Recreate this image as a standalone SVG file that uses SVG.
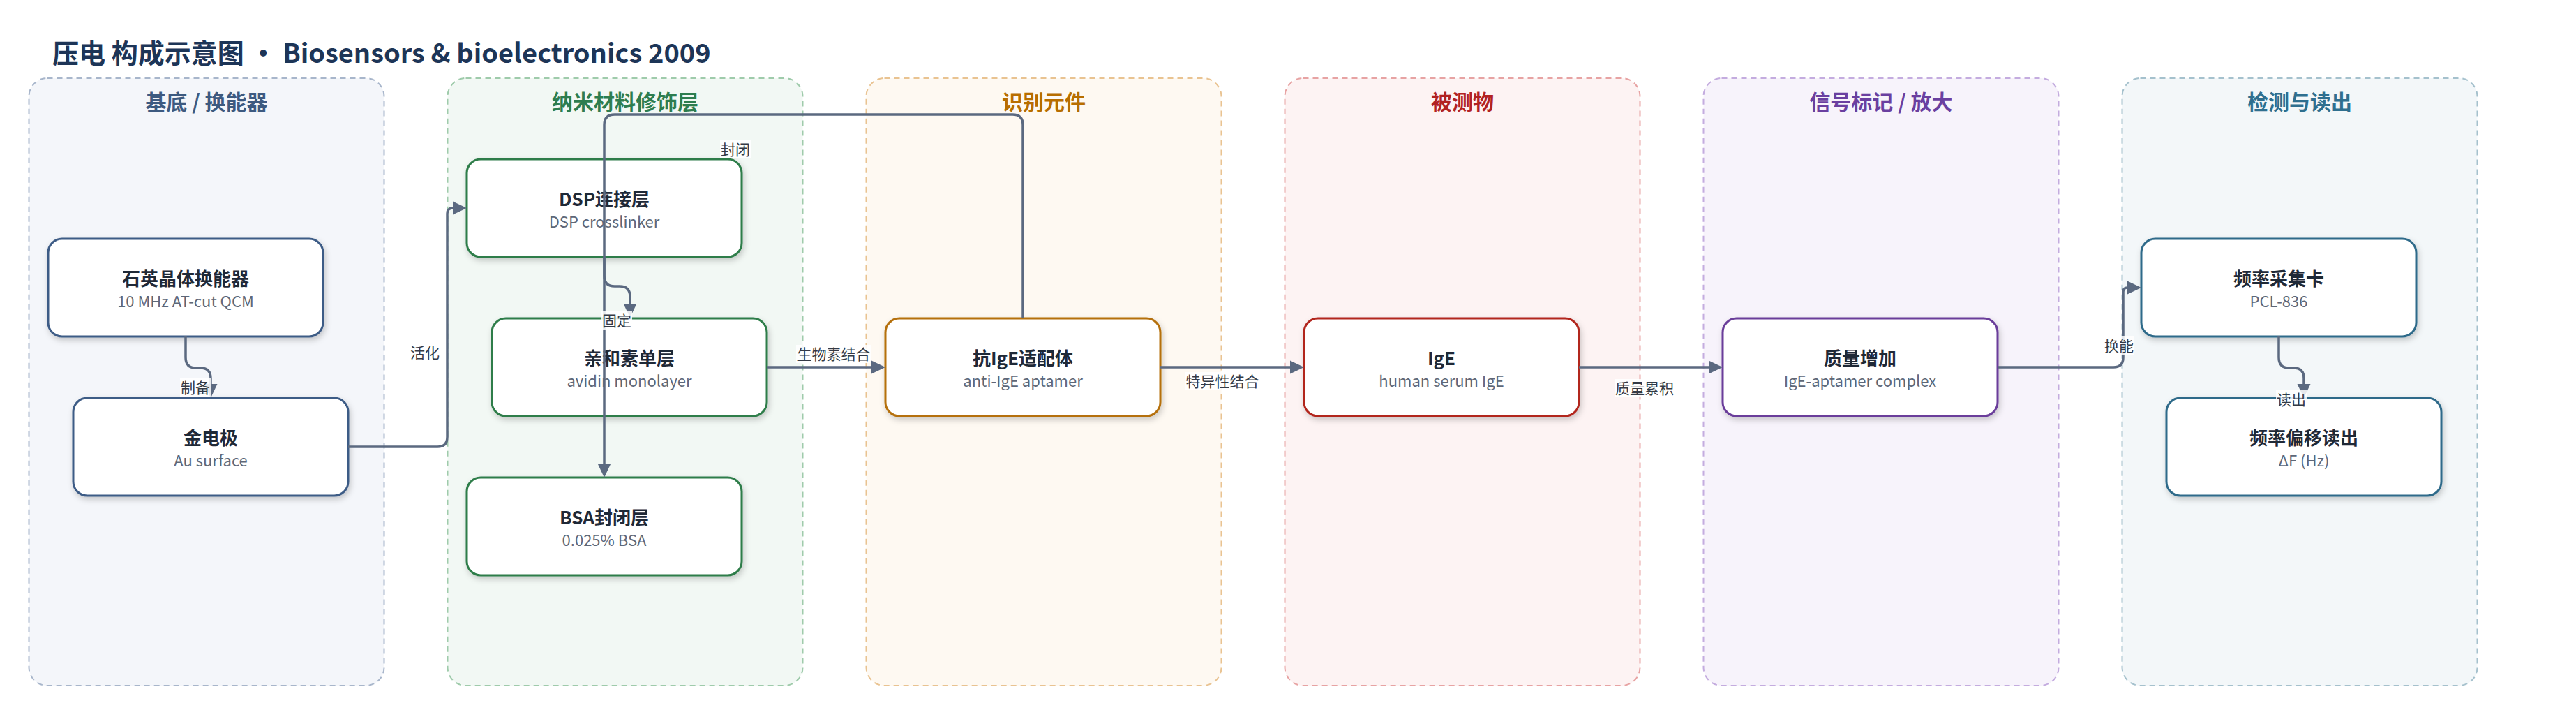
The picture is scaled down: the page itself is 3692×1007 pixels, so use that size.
<svg xmlns="http://www.w3.org/2000/svg" width="3692" height="1007" viewBox="0 0 3692 1007">
<defs>
<filter id="sh" x="-10%" y="-10%" width="125%" height="135%">
<feDropShadow dx="2" dy="4" stdDeviation="4" flood-color="#000" flood-opacity="0.2"/>
</filter>
<marker id="ah" markerUnits="userSpaceOnUse" markerWidth="20" markerHeight="20" viewBox="0 0 20 20" refX="0" refY="10" orient="auto">
<path d="M0,0.5 L20,10 L0,19.5 z" fill="#5b6980"/>
</marker>
</defs>
<style>
text{font-family:"Noto Sans CJK SC","Noto Sans",sans-serif}
.grp{stroke-width:2;stroke-dasharray:8 6}
.gt{font-size:30px;font-weight:700;text-anchor:middle}
.nd{fill:#fff;stroke-width:3;filter:url(#sh)}
.t1{font-size:26px;font-weight:700;fill:#1f2937;text-anchor:middle}
.t2{font-size:22px;fill:#5d6778;text-anchor:middle}
.ed{fill:none;stroke:#5b6980;stroke-width:3.5;marker-end:url(#ah)}
.lb{fill:#fff;fill-opacity:0.85}
.lt{font-size:21px;fill:#343a46;text-anchor:middle}
</style>
<rect width="3692" height="1007" fill="#fff"/>
<text x="75" y="90" font-size="38" font-weight="700" fill="#1d3557">压电 构成示意图 · Biosensors &amp; bioelectronics 2009</text>

<g id="grp-substrate">
<rect class="grp" x="41.5" y="112" width="509" height="870" rx="26" fill="#f4f6fa" stroke="#a8b6cb"/>
<text class="gt" x="296" y="157" fill="#3d5a80">基底 / 换能器</text>
</g>
<g id="grp-nano">
<rect class="grp" x="641.5" y="112" width="509" height="870" rx="26" fill="#f2f8f4" stroke="#9fcbab"/>
<text class="gt" x="896" y="157" fill="#2e7d4f">纳米材料修饰层</text>
</g>
<g id="grp-recog">
<rect class="grp" x="1241.5" y="112" width="509" height="870" rx="26" fill="#fef9f2" stroke="#e9c391"/>
<text class="gt" x="1496" y="157" fill="#b86e00">识别元件</text>
</g>
<g id="grp-analyte">
<rect class="grp" x="1841.5" y="112" width="509" height="870" rx="26" fill="#fdf3f3" stroke="#e7a3a3"/>
<text class="gt" x="2096" y="157" fill="#b22222">被测物</text>
</g>
<g id="grp-signal">
<rect class="grp" x="2441.5" y="112" width="509" height="870" rx="26" fill="#f7f3fb" stroke="#c4acdf"/>
<text class="gt" x="2696" y="157" fill="#6a3fa0">信号标记 / 放大</text>
</g>
<g id="grp-readout">
<rect class="grp" x="3041.5" y="112" width="509" height="870" rx="26" fill="#f3f7f9" stroke="#a5c1cd"/>
<text class="gt" x="3296" y="157" fill="#2f6f8f">检测与读出</text>
</g>

<g id="n-quartz">
<rect class="nd" x="69" y="342" width="394" height="140" rx="20" stroke="#3e5c86"/>
<text class="t1" x="266" y="409">石英晶体换能器</text>
<text class="t2" x="266" y="440">10 MHz AT-cut QCM</text>
</g>
<g id="n-gold">
<rect class="nd" x="105" y="570" width="394" height="140" rx="20" stroke="#3e5c86"/>
<text class="t1" x="302" y="637">金电极</text>
<text class="t2" x="302" y="668">Au surface</text>
</g>
<g id="n-dsp">
<rect class="nd" x="669" y="228" width="394" height="140" rx="20" stroke="#2e7d4a"/>
<text class="t1" x="866" y="295">DSP连接层</text>
<text class="t2" x="866" y="326">DSP crosslinker</text>
</g>
<g id="n-avidin">
<rect class="nd" x="705" y="456" width="394" height="140" rx="20" stroke="#2e7d4a"/>
<text class="t1" x="902" y="523">亲和素单层</text>
<text class="t2" x="902" y="554">avidin monolayer</text>
</g>
<g id="n-bsa">
<rect class="nd" x="669" y="684" width="394" height="140" rx="20" stroke="#2e7d4a"/>
<text class="t1" x="866" y="751">BSA封闭层</text>
<text class="t2" x="866" y="782">0.025% BSA</text>
</g>
<g id="n-aptamer">
<rect class="nd" x="1269" y="456" width="394" height="140" rx="20" stroke="#b5700a"/>
<text class="t1" x="1466" y="523">抗IgE适配体</text>
<text class="t2" x="1466" y="554">anti-IgE aptamer</text>
</g>
<g id="n-ige">
<rect class="nd" x="1869" y="456" width="394" height="140" rx="20" stroke="#b2261f"/>
<text class="t1" x="2066" y="523">IgE</text>
<text class="t2" x="2066" y="554">human serum IgE</text>
</g>
<g id="n-mass">
<rect class="nd" x="2469" y="456" width="394" height="140" rx="20" stroke="#6a3d9a"/>
<text class="t1" x="2666" y="523">质量增加</text>
<text class="t2" x="2666" y="554">IgE-aptamer complex</text>
</g>
<g id="n-card">
<rect class="nd" x="3069" y="342" width="394" height="140" rx="20" stroke="#2f6b8a"/>
<text class="t1" x="3266" y="409">频率采集卡</text>
<text class="t2" x="3266" y="440">PCL-836</text>
</g>
<g id="n-shift">
<rect class="nd" x="3105" y="570" width="394" height="140" rx="20" stroke="#2f6b8a"/>
<text class="t1" x="3302" y="637">频率偏移读出</text>
<text class="t2" x="3302" y="668">ΔF (Hz)</text>
</g>

<g id="connectors">
<path class="ed" d="M266,482 V512 Q266,527 281,527 H287 Q302,527 302,542 V550"/>
<path class="ed" d="M499,640 H627 Q641,640 641,626 V306 Q641,298 649,298"/>
<path class="ed" d="M866,368 V395 Q866,410 881,410 H888 Q903,410 903,425 V435"/>
<path class="ed" d="M1466,456 V179 Q1466,164 1451,164 H881 Q866,164 866,179 V664"/>
<path class="ed" d="M1099,526 H1249"/>
<path class="ed" d="M1663,526 H1849"/>
<path class="ed" d="M2263,526 H2449"/>
<path class="ed" d="M2863,526 H3029 Q3043,526 3043,512 V418 Q3043,412 3049,412"/>
<path class="ed" d="M3266,482 V512 Q3266,527 3281,527 H3287 Q3302,527 3302,542 V550"/>

<rect class="lb" x="258" y="542" width="44" height="26"/>
<text class="lt" x="280" y="563">制备</text>
<rect class="lb" x="587" y="492" width="44" height="26"/>
<text class="lt" x="609" y="513">活化</text>
<rect class="lb" x="1032" y="201" width="44" height="26"/>
<text class="lt" x="1054" y="222">封闭</text>
<rect class="lb" x="862" y="446" width="44" height="26"/>
<text class="lt" x="884" y="467">固定</text>
<rect class="lb" x="1141" y="494" width="108" height="26"/>
<text class="lt" x="1195" y="515">生物素结合</text>
<rect class="lb" x="1698" y="533" width="108" height="26"/>
<text class="lt" x="1752" y="554">特异性结合</text>
<rect class="lb" x="2314" y="543" width="86" height="26"/>
<text class="lt" x="2357" y="564">质量累积</text>
<rect class="lb" x="3015" y="482" width="44" height="26"/>
<text class="lt" x="3037" y="503">换能</text>
<rect class="lb" x="3262" y="559" width="44" height="26"/>
<text class="lt" x="3284" y="580">读出</text>
</g>
</svg>
